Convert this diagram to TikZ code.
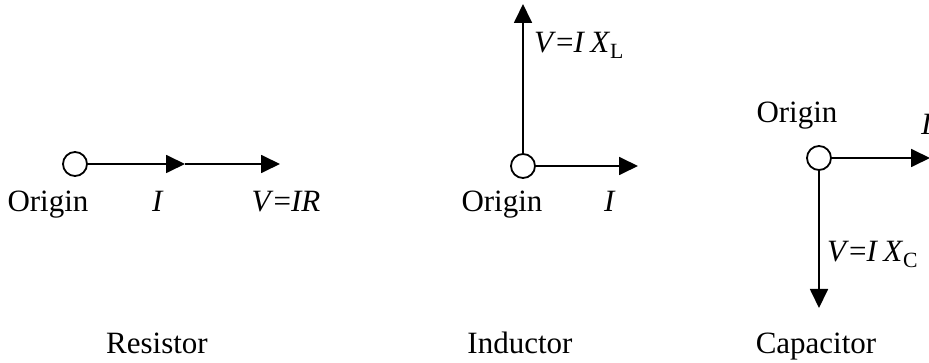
\documentclass[tikz,border=0pt]{standalone}
\usepackage{fontspec}
\setmainfont{Liberation Serif}
\usetikzlibrary{arrows.meta}
\begin{document}
\begin{tikzpicture}[x=1pt,y=-1pt,
  lbl/.style={inner sep=0pt,font=\fontsize{31}{36}\selectfont},
  origin/.style={circle,draw,line width=1.8pt,minimum size=24pt,inner sep=0pt,fill=white},
  vec/.style={line width=1.8pt,-{Triangle[length=19pt,width=18pt]}}]
\useasboundingbox (0,0) rectangle (929,363);
% Resistor
\node[origin] (r0) at (75,164) {};
\coordinate (r1) at (185,164);
\coordinate (r2) at (280,164);
\draw[vec] (r0.east) -- (r1);
\draw[vec] (r1) -- (r2);
\node[lbl,anchor=base] (rorig) at (48,212) {Origin};
\node[lbl,anchor=base] (ri) at (158,212) {\textit{I}};
\node[lbl,anchor=base] (rv) at (286,212) {\textit{V}=\textit{IR}};
\node[lbl,anchor=base] (rname) at (157,353) {Resistor};
% Inductor
\node[origin] (l0) at (523,166) {};
\coordinate (l1) at (523,4);
\coordinate (l2) at (638,166);
\draw[vec] (l0.north) -- (l1);
\draw[vec] (l0.east) -- (l2);
\node[lbl,anchor=base west] (lv) at (534,53) {\textit{V}=\textit{I}\,\textit{X}\textsubscript{L}};
\node[lbl,anchor=base] (lorig) at (502,212) {Origin};
\node[lbl,anchor=base] (li) at (610,212) {\textit{I}};
\node[lbl,anchor=base] (lname) at (520,353) {Inductor};
% Capacitor
\node[origin] (c0) at (819,158) {};
\coordinate (c1) at (930,158);
\coordinate (c2) at (819,308);
\draw[vec] (c0.east) -- (c1);
\draw[vec] (c0.south) -- (c2);
\node[lbl,anchor=base] (corig) at (797,123) {Origin};
\node[lbl,anchor=base west] (ci) at (921,135) {\textit{I}};
\node[lbl,anchor=base west] (cv) at (827,262) {\textit{V}=\textit{I}\,\textit{X}\textsubscript{C}};
\node[lbl,anchor=base] (cname) at (816,353) {Capacitor};
\end{tikzpicture}
\end{document}
